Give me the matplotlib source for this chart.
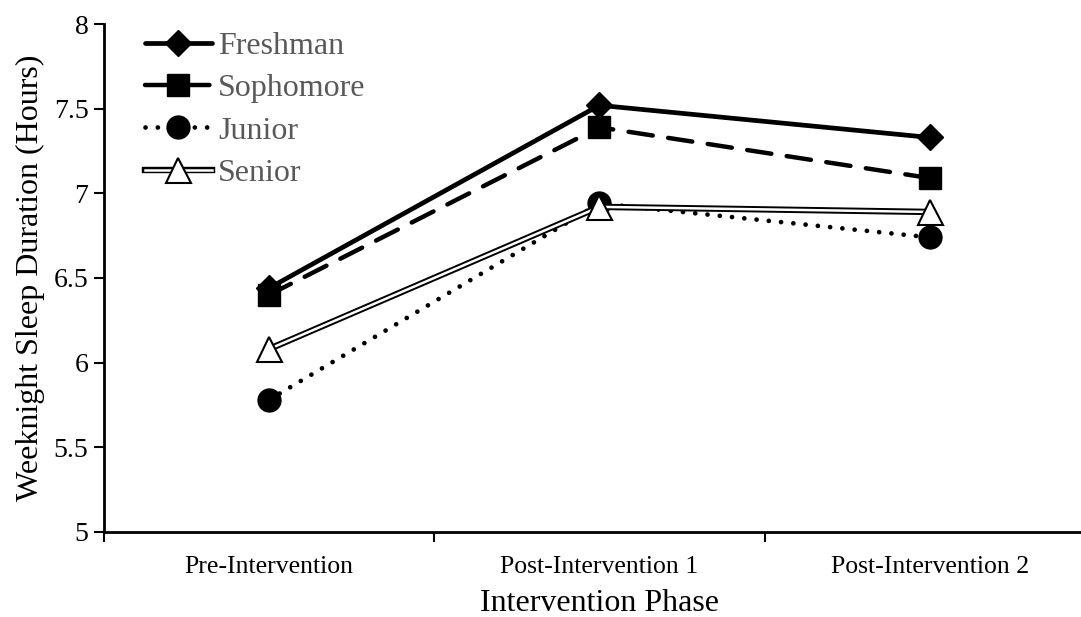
import numpy as np
import matplotlib
matplotlib.use("Agg")
import matplotlib.pyplot as plt
import matplotlib.patheffects as pe
from matplotlib.legend_handler import HandlerTuple

plt.rcParams['font.family'] = ['Liberation Serif', 'DejaVu Serif']

# data
phases = ['Pre-Intervention', 'Post-Intervention 1', 'Post-Intervention 2']
freshman = [6.44, 7.52, 7.33]
sophomore = [6.40, 7.39, 7.09]
junior = [5.78, 6.94, 6.74]
senior = [6.08, 6.92, 6.89]

x = np.arange(len(phases))

fig = plt.figure(figsize=(10.81, 6.17), dpi=100)
ax = fig.add_axes([0.096, 0.138, 0.917, 0.823])

# Freshman - solid with diamonds
l_fr, = ax.plot(x, freshman, color='black', lw=3.4, solid_capstyle='round',
                marker='D', ms=13.5, mfc='black', mec='black', zorder=3)
# Sophomore - dashed with squares
l_so, = ax.plot(x, sophomore, color='black', lw=3.2, dashes=(5.5, 3.5),
                dash_capstyle='round', marker='s', ms=16, mfc='black',
                mec='black', zorder=2)
# Junior - dotted with circles
l_ju, = ax.plot(x, junior, color='black', lw=3.4, dashes=(0.01, 2.6),
                dash_capstyle='round', marker='o', ms=16.5, mfc='black',
                mec='black', zorder=2.5)
# Senior - double line with open triangles
l_se_line, = ax.plot(x, senior, color='white', lw=1.8, zorder=3.5,
                     path_effects=[pe.Stroke(linewidth=4.6, foreground='black'),
                                   pe.Normal()])
l_se_mk, = ax.plot(x, senior, ls='none', marker='^', ms=18, mfc='white',
                   mec='black', mew=1.5, zorder=3.6)

ax.set_xlim(-0.5, 2.5)
ax.set_ylim(5, 8)
ax.set_yticks([5, 5.5, 6, 6.5, 7, 7.5, 8])
ax.set_yticklabels(['5', '5.5', '6', '6.5', '7', '7.5', '8'])
ax.set_xticks(x)
ax.set_xticklabels(phases)
ax.set_xticks([-0.5, 0.5, 1.5, 2.5], minor=True)
ax.tick_params(axis='x', which='major', length=0, labelsize=18.5, pad=17.5)
ax.tick_params(axis='x', which='minor', length=7, width=1.5, direction='out')
ax.tick_params(axis='y', length=7, width=1.5, direction='out', labelsize=20, pad=4)

for s in ['top', 'right']:
    ax.spines[s].set_visible(False)
for s in ['left', 'bottom']:
    ax.spines[s].set_linewidth(2)

ax.set_xlabel('Intervention Phase', fontsize=23, labelpad=8)
ax.set_ylabel('Weeknight Sleep Duration (Hours)', fontsize=23, labelpad=6)

leg = ax.legend([l_fr, l_so, l_ju, (l_se_line, l_se_mk)],
                ['Freshman', 'Sophomore', 'Junior', 'Senior'],
                handler_map={tuple: HandlerTuple(ndivide=1)},
                loc='upper left', bbox_to_anchor=(0.025, 1.016), frameon=False,
                borderpad=0, fontsize=23, handlelength=2.1, handletextpad=0.2,
                labelspacing=0.40, labelcolor='#595959')

fig.savefig('out.png', dpi=100)
